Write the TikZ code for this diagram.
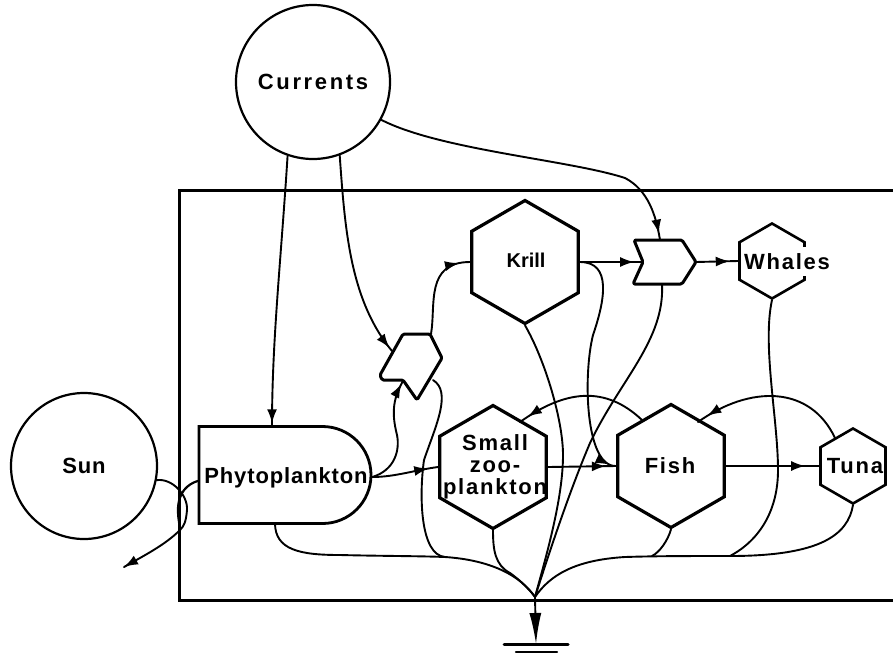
\documentclass[tikz,border=0pt]{standalone}
\usepackage{fontspec}
\newfontfamily\lblfont{Liberation Sans}[LetterSpace=4]
\newfontfamily\lblwide{Liberation Sans}[LetterSpace=8]
\newfontfamily\lblxwide{Liberation Sans}[LetterSpace=12]
\newfontfamily\lbltight{Liberation Sans}
\usetikzlibrary{shapes.geometric,shapes.misc,arrows.meta,decorations.markings,calc}
\newcommand{\lblsize}{\bfseries\fontsize{22}{22}\selectfont}
\tikzset{
  lbl/.style={font=\lblwide\lblsize,align=center,inner sep=0pt},
  ring/.style={draw=black,circle,line width=2.2pt,inner sep=0pt},
  hexbig/.style={draw=black,regular polygon,regular polygon sides=6,shape border rotate=30,minimum size=123pt,inner sep=0pt,line width=3.2pt},
  hexsmall/.style={draw=black,regular polygon,regular polygon sides=6,shape border rotate=30,minimum size=75pt,inner sep=0pt,line width=2.6pt},
  gate/.style={draw=black,line width=3pt,line join=round,rounded corners=1.5pt},
  flow/.style={draw=black,line width=1.9pt,line cap=round},
  tipat/.style={postaction={decorate,decoration={markings,mark=at position #1 with {\arrow{Latex[length=14pt,width=10pt]}}}}},
}
\begin{document}
\begin{tikzpicture}[x=1pt,y=-1pt]
\useasboundingbox (0,0) rectangle (893,656);
% outer system boundary
\draw[line width=3pt] (893,190) -- (179,190) -- (179,600) -- (893,600);
% shapes
\node[ring,minimum size=154pt,font=\lblxwide\lblsize] (currents) at (313,82) {Currents};
\node[ring,minimum size=146pt,font=\lblfont\lblsize] (sun) at (84,466) {Sun};
\node[draw=black,line width=2.8pt,rounded rectangle,rounded rectangle west arc=none,minimum width=172pt,minimum height=97pt,inner sep=0pt] (phyto) at (285,475) {};
\node[lbl,font=\lblfont\lblsize] (phytoT) at (286,478) {Phytoplankton};
\node[hexbig] (krill) at (525,262) {};
\node[lbl,font=\lbltight\bfseries\fontsize{20}{22}\selectfont] (krillT) at (526,260) {Krill};
\node[hexbig] (zoo) at (493,467) {};
\node[lbl] (zooT) at (495,467) {Small\\zoo-\\plankton};
\node[hexbig] (fish) at (671,466) {};
\node[lbl] (fishT) at (670,466) {Fish};
\node[hexsmall] (whales) at (772,261) {};
\draw[white,line width=5pt] (804.5,247) -- (804.5,276);
\node[lbl] (whalesT) at (787,262) {Whales};
\node[hexsmall] (tuna) at (853,466) {};
\node[lbl] (tunaT) at (855,466) {Tuna};
% interaction gates
\draw[gate] (403,334) -- (430,334) -- (442,358) -- (417,400) -- (403,380) -- (382,380) -- (380,375) -- cycle;
\draw[gate] (634,240) -- (682,240) -- (696,262) -- (682,284) -- (633,284) -- (643,262) -- cycle;
% ports
\coordinate (gaA) at (392,351);
\coordinate (gaN) at (403,381);
\coordinate (gaT) at (431,334);
\coordinate (gaR) at (433,380);
\coordinate (gbT) at (660,240);
\coordinate (gbL) at (643,262);
\coordinate (gbB) at (662,284);
\coordinate (gbR) at (696,262);
\coordinate (sink) at (535,597);
\coordinate (groundTop) at (536,644);
\coordinate (heat) at (124,567);
\coordinate (groundA) at (504,644);
\coordinate (groundB) at (568,644);
\coordinate (groundC) at (516,652);
\coordinate (groundD) at (557,652);
% Currents
\draw[flow,tipat=0.99] (currents.251) .. controls (281,260) and (272,340) .. (272,426);
\draw[flow,tipat=0.98] (currents.290) .. controls (345,230) and (350,300) .. (gaA);
\draw[flow,tipat=0.98] (currents.331) .. controls (440,150) and (570,160) .. (625,178) .. controls (648,190) and (656,215) .. (gbT);
% Sun and heat
\draw[flow] (sun.349) .. controls (172,478) and (188,495) .. (187,510) .. controls (186,522) and (184,526) .. (180,530);
\draw[flow,line width=2.2pt] (phyto.west) ++(0,6) .. controls (188,484) and (178,492) .. (178,510) .. controls (178,520) and (180,525) .. (180,530);
\draw[flow,tipat=1] (180,530) .. controls (165,545) and (145,555) .. (heat);
% Phytoplankton outputs
\draw[flow,tipat=0.97] (phyto.east) ++(0,2) .. controls (395,470) and (400,450) .. (397,435) .. controls (392,415) and (392,400) .. (gaN);
\draw[flow,tipat=0.85] (phyto.east) ++(0,2) .. controls (395,477) and (415,470) .. (zoo.west);
% Gates out
\draw[flow,tipat=0.88] (gaT) .. controls (436,305) and (425,262) .. (krill.west);
\draw[flow,tipat=0.86] (krill.east) -- (gbL);
\draw[flow,tipat=0.8] (gbR) -- (whales.west);
% Feeding
\draw[flow,tipat=0.97] (krill.east) .. controls (612,262) and (605,300) .. (593,335) .. controls (583,375) and (585,467) .. (fish.west);
\draw[flow,tipat=0.85] (zoo.east) -- (fish.west);
\draw[flow,tipat=0.85] (fish.east) -- (tuna.west);
\draw[flow,tipat=0.93] (642,420) .. controls (605,385) and (565,390) .. (520,422);
\draw[flow,tipat=0.93] (835,438) .. controls (810,385) and (750,385) .. (698,422);
% Losses to sink
\draw[flow] (275,523) .. controls (275,550) and (300,555) .. (340,555) .. controls (380,556) and (420,556) .. (445,557) .. controls (490,560) and (520,575) .. (sink);
\draw[flow] (gaR) .. controls (452,392) and (436,425) .. (424,460) .. controls (419,495) and (420,555) .. (445,557);
\draw[flow] (zoo.south) .. controls (493,550) and (495,565) .. (510,573) .. controls (520,580) and (530,590) .. (sink);
\draw[flow] (krill.south) .. controls (545,360) and (563,420) .. (563,455) .. controls (563,500) and (545,560) .. (sink);
\draw[flow] (gbB) .. controls (665,340) and (620,380) .. (590,443) .. controls (570,490) and (550,550) .. (sink);
\draw[flow] (whales.south) .. controls (762,345) and (778,420) .. (778,470) .. controls (778,510) and (760,540) .. (730,556) .. controls (690,556) and (655,556) .. (625,557) .. controls (575,560) and (550,575) .. (sink);
\draw[flow] (fish.south) .. controls (668,540) and (660,552) .. (652,556);
\draw[flow] (tuna.south) .. controls (848,535) and (820,556) .. (730,556);
% Ground
\draw[flow,-{Latex[length=31pt,width=12pt]}] (sink) -- (groundTop);
\draw[line width=3pt,line cap=round] (groundA) -- (groundB);
\draw[line width=2.2pt,line cap=round] (groundC) -- (groundD);
\end{tikzpicture}
\end{document}
